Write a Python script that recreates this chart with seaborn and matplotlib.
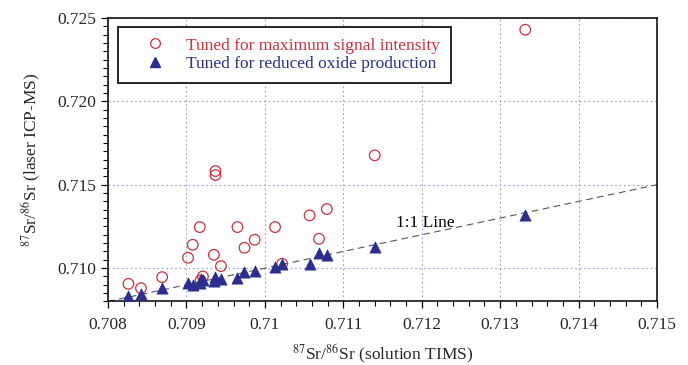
import numpy as np
import pandas as pd
import matplotlib
matplotlib.use("Agg")
import matplotlib.pyplot as plt
from matplotlib.ticker import MultipleLocator, FuncFormatter
from matplotlib.lines import Line2D
import seaborn as sns

# data (solution TIMS vs laser ICP-MS)
max_signal_x = [0.70826, 0.70842, 0.70869, 0.70902, 0.70908, 0.70917, 0.70918, 0.70921,
                0.70935, 0.70937, 0.70937, 0.70944, 0.70965, 0.70974, 0.70987, 0.71013,
                0.71022, 0.71057, 0.71069, 0.71079, 0.71140, 0.71332]
max_signal_y = [0.70906, 0.70880, 0.70946, 0.71062, 0.71140, 0.71246, 0.70926, 0.70950,
                0.71080, 0.71582, 0.71558, 0.71012, 0.71246, 0.71122, 0.71170, 0.71246,
                0.71026, 0.71316, 0.71176, 0.71354, 0.71676, 0.72429]

low_oxide_x = [0.70826, 0.70842, 0.70869, 0.70902, 0.70908, 0.70917, 0.70918, 0.70921,
               0.70935, 0.70937, 0.70944, 0.70965, 0.70974, 0.70987, 0.71013, 0.71022,
               0.71057, 0.71069, 0.71079, 0.71140, 0.71332]
low_oxide_y = [0.70830, 0.70847, 0.70880, 0.70912, 0.70896, 0.70908, 0.70932, 0.70926,
               0.70920, 0.70944, 0.70932, 0.70940, 0.70976, 0.70980, 0.71006, 0.71026,
               0.71026, 0.71092, 0.71080, 0.71126, 0.71320]

series_labels = ["Tuned for maximum signal intensity", "Tuned for reduced oxide production"]
red = "#c8323c"
blue = "#2b2e8c"

df_max = pd.DataFrame({"tims": max_signal_x, "icp": max_signal_y})
df_ox = pd.DataFrame({"tims": low_oxide_x, "icp": low_oxide_y})

sns.set_style("white")
plt.rcParams["font.family"] = ["Liberation Serif", "DejaVu Serif"]
plt.rcParams["mathtext.fontset"] = "stix"

fig = plt.figure(figsize=(6.88, 3.65), dpi=100)
ax = fig.add_axes([0.157, 0.174, 0.798, 0.777])

# 1:1 reference line
ax.axline((0.708, 0.708), slope=1, color="#555555", lw=0.8, ls=(0, (6, 4)), zorder=1)

sns.scatterplot(data=df_max, x="tims", y="icp", ax=ax, marker="o", s=58,
                facecolor="none", edgecolor=red, linewidth=0.9, zorder=2)
sns.scatterplot(data=df_ox, x="tims", y="icp", ax=ax, marker="^", s=65,
                color=blue, edgecolor=blue, linewidth=0.5, zorder=3)

ax.set_xlim(0.708, 0.715)
ax.set_ylim(0.708, 0.725)
ax.xaxis.set_major_locator(MultipleLocator(0.001))
ax.xaxis.set_minor_locator(MultipleLocator(0.0002))
ax.yaxis.set_major_locator(MultipleLocator(0.005))
ax.yaxis.set_minor_locator(MultipleLocator(0.0005))
ax.xaxis.set_major_formatter(FuncFormatter(lambda v, p: f"{v:.3f}".rstrip("0")))
ax.yaxis.set_major_formatter(FuncFormatter(lambda v, p: f"{v:.3f}"))

ax.grid(True, which="major", color="#9a9ad8", ls=(0, (1.5, 2.5)), lw=0.8)
ax.tick_params(which="major", direction="out", length=5, width=0.9, labelsize=12.5, color="black")
ax.tick_params(which="minor", direction="out", length=3.5, width=0.8, color="black")
ax.tick_params(axis="x", which="major", pad=6)
ax.tick_params(axis="both", which="both", bottom=True, left=True, top=False, right=False)
for s in ax.spines.values():
    s.set_color("black")
    s.set_linewidth(1.1)

ax.set_xlabel(r"$^{87}$Sr/$^{86}$Sr (solution TIMS)", fontsize=12.5, labelpad=7)
ax.set_ylabel(r"$^{87}$Sr/$^{86}$Sr (laser ICP-MS)", fontsize=12.5, labelpad=10)

ax.text(0.71167, 0.71268, "1:1 Line", fontsize=12.5, ha="left", va="center", color="black")

handles = [
    Line2D([], [], marker="o", ls="none", markersize=7, markerfacecolor="none",
           markeredgecolor=red, markeredgewidth=0.9),
    Line2D([], [], marker="^", ls="none", markersize=7.5, color=blue),
]
leg = ax.legend(handles, series_labels, loc="upper left", bbox_to_anchor=(0.018, 0.968),
                borderaxespad=0, fontsize=12.5, frameon=True, fancybox=False,
                edgecolor="black", framealpha=1, handletextpad=0.25, labelspacing=0.15,
                borderpad=0.6, handlelength=3.1)
leg.get_frame().set_linewidth(1.2)
for t, c in zip(leg.get_texts(), [red, blue]):
    t.set_color(c)

fig.savefig("out.png", dpi=100)
